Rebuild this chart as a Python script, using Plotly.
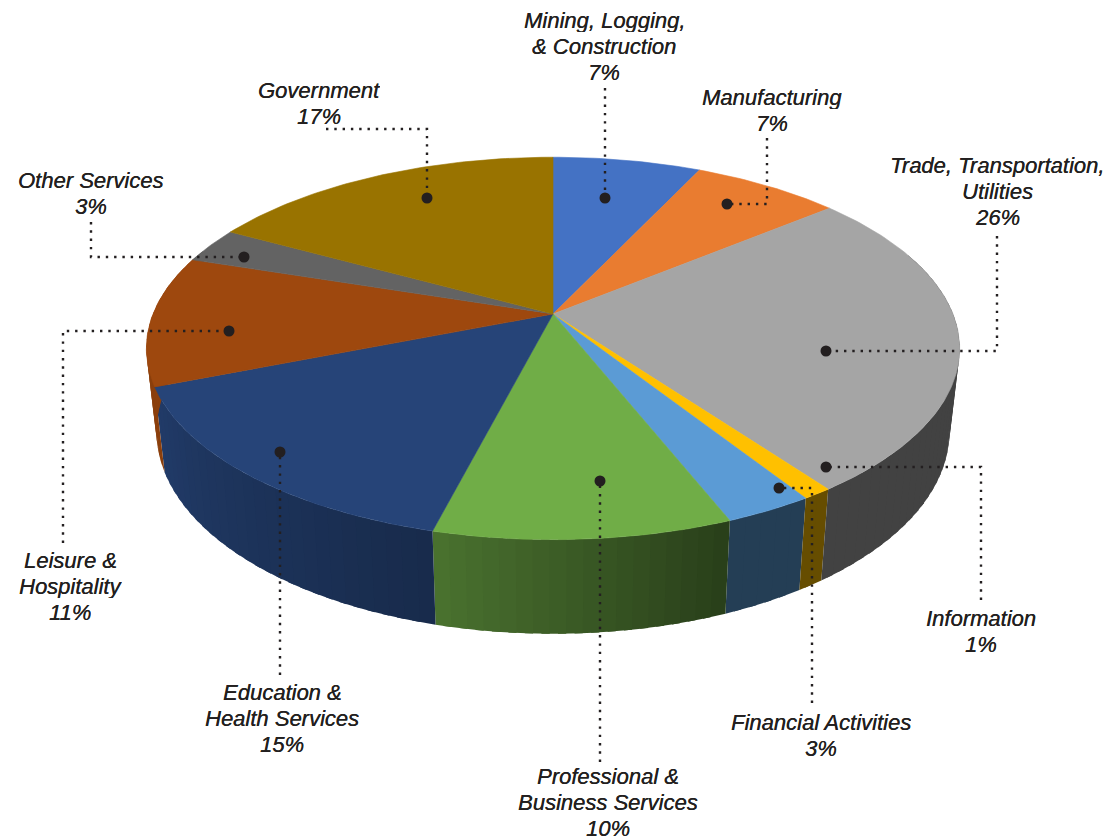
import math
import plotly.graph_objects as go

# Employment share by sector, clockwise from twelve o'clock
sectors = ["Mining, Logging,\n& Construction", "Manufacturing",
           "Trade, Transportation,\nUtilities", "Information",
           "Financial Activities", "Professional &\nBusiness Services",
           "Education &\nHealth Services", "Leisure &\nHospitality",
           "Other Services", "Government"]
shares = [7, 7, 26, 1, 3, 10, 15, 11, 3, 17]

top_colors = ["#4472C4", "#E97C30", "#A5A5A5", "#FFC000", "#5B9BD5",
              "#70AD47", "#264478", "#9E480E", "#636363", "#997300"]
# Wall brightness at the clockwise start and end of each slice
wall_shades = [(.6, .6), (.6, .6), (.4, .4), (.4, .4), (.4, .4),
               (.36, .66), (.63, .87), (.88, .88), (.6, .6), (.6, .6)]

# Label centre and callout route for each sector, in page pixels
label_centres = [(604, 46), (772, 110), (997, 191), (981, 631), (821, 735),
                 (608, 802), (282, 718), (70, 586), (91, 193), (319, 103)]
callouts = [
    [(605, 88), (605, 198)],
    [(767, 138), (767, 204), (727, 204)],
    [(997, 236), (997, 351), (826, 351)],
    [(981, 600), (981, 467), (826, 467)],
    [(812, 703), (812, 488), (779, 488)],
    [(600, 762), (600, 481)],
    [(280, 675), (280, 452)],
    [(63, 543), (63, 331), (229, 331)],
    [(91, 222), (91, 257), (244, 257)],
    [(326, 129), (427, 129), (427, 198)],
]

# Perspective of the tilted disc
CX, CY = 553, 314
RX, RY, TILT = 400, 185, 0.18
LINE_STEP = 25.6
INK = "#231f20"


def rim(angle):
    """Project a rim point, angle in degrees clockwise from the back of the disc."""
    a = math.radians(angle)
    u, v = math.sin(a), math.cos(a)
    d = 1 + TILT * v
    return CX + RX * u / d, CY - RY * v / d


def base(x, y):
    """Drop a top-face point to the lower face of the disc."""
    return CX + (x - CX) * 0.975, y + 86 + (y - 396) * 0.057


def shade(color, f):
    r, g, b = (int(color[i:i + 2], 16) for i in (1, 3, 5))
    return f"rgb({r * f:.0f},{g * f:.0f},{b * f:.0f})"


def polygon(xs, ys, color, name, edge=0.6):
    return go.Scatter(x=xs, y=ys, mode="lines", fill="toself", fillcolor=color,
                      line=dict(color=color, width=edge), name=name,
                      hoverinfo="name", showlegend=False)


fig = go.Figure()
plain_names = [s.replace("\n", " ") for s in sectors]

total = sum(shares)
edges = [0.0]
for s in shares:
    edges.append(edges[-1] + 360 * s / total)

# Side wall: overlapping shaded strips within each slice, so no seams show
for i in list(range(4, -1, -1)) + list(range(5, len(shares))):
    a0, a1 = edges[i], edges[i + 1]
    n = max(2, round((a1 - a0) / 2))
    for k in range(n):
        b0 = a0 + (a1 - a0) * k / n
        b1 = a0 + (a1 - a0) * (k + 1) / n
        if math.cos(math.radians((b0 + b1) / 2)) > 0.35:
            continue
        f = wall_shades[i][0] + (wall_shades[i][1] - wall_shades[i][0]) * (k + .5) / n
        end = min(b1 + 1.0, a1)
        angles = [b0 + (end - b0) * j / 6 for j in range(7)]
        top = [rim(a) for a in angles]
        low = [base(*p) for p in top]
        ring = top + low[::-1] + top[:1]
        fig.add_trace(polygon([p[0] for p in ring], [p[1] for p in ring],
                              shade(top_colors[i], f), plain_names[i], edge=0))

# Top face of each slice
for i in range(len(shares)):
    a0, a1 = edges[i], edges[i + 1]
    n = max(4, round(a1 - a0))
    pts = [rim(a0 + (a1 - a0) * k / n) for k in range(n + 1)]
    xs = [CX] + [p[0] for p in pts] + [CX]
    ys = [CY] + [p[1] for p in pts] + [CY]
    fig.add_trace(polygon(xs, ys, top_colors[i], plain_names[i]))

# Dotted callouts ending in a round dot on the slice
for path in callouts:
    fig.add_trace(go.Scatter(x=[p[0] for p in path], y=[p[1] for p in path], mode="lines",
                             line=dict(color=INK, width=2.4, dash="2.4px,5.9px"),
                             hoverinfo="skip", showlegend=False))
    fig.add_trace(go.Scatter(x=[path[-1][0]], y=[path[-1][1]], mode="markers",
                             marker=dict(color=INK, size=11, line=dict(width=0)),
                             hoverinfo="skip", showlegend=False))

# Labels: name lines then the share, on a tight fixed line step
for name, share, (x, y) in zip(sectors, shares, label_centres):
    lines = name.split("\n") + [f"{share}%"]
    first = y - LINE_STEP * (len(lines) - 1) / 2
    for j, line in enumerate(lines):
        fig.add_annotation(x=x, y=first + j * LINE_STEP, xref="x", yref="y", text=line,
                           showarrow=False, align="center", xanchor="center", yanchor="middle",
                           height=24, borderpad=0,
                           font=dict(family="Liberation Sans", size=22, color=INK, style="italic",
                                     shadow="0.25px 0 0 #231f20"))

fig.update_xaxes(range=[0, 1120], visible=False, fixedrange=True)
fig.update_yaxes(range=[840, 0], visible=False, fixedrange=True)
fig.update_layout(width=1120, height=840, autosize=False,
                  margin=dict(l=0, r=0, t=0, b=0),
                  paper_bgcolor="white", plot_bgcolor="white")
fig.write_html("out.html", config=dict(displayModeBar=False))
